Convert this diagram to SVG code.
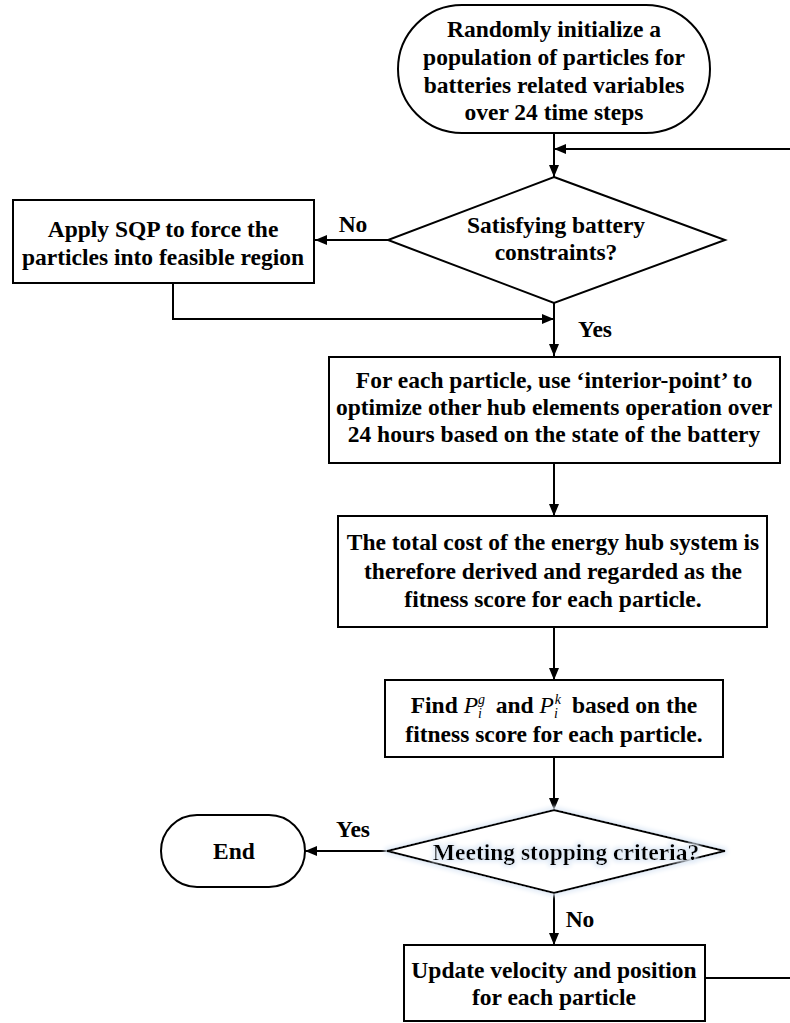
<svg xmlns="http://www.w3.org/2000/svg" width="790" height="1023" viewBox="0 0 790 1023">
<style>
.s{fill:#fff;stroke:#000;stroke-width:2}
.c{fill:none;stroke:#000;stroke-width:2}
.t{font-family:"Liberation Serif","Times New Roman",serif;font-weight:bold;font-size:23.5px;text-anchor:middle;fill:#000}
.m{font-style:italic;font-weight:normal}
</style>
<defs>
<marker id="ah" markerUnits="userSpaceOnUse" markerWidth="12" markerHeight="10" refX="12" refY="5" orient="auto">
<path d="M0,0 L12,5 L0,10 z" fill="#000"/>
</marker>
<filter id="glow" x="-20%" y="-50%" width="140%" height="200%">
<feMorphology in="SourceAlpha" operator="dilate" radius="1.5" result="d"/>
<feGaussianBlur in="d" stdDeviation="2" result="b"/>
<feFlood flood-color="#e3ecf7"/>
<feComposite in2="b" operator="in" result="g"/>
<feMerge><feMergeNode in="g"/><feMergeNode in="SourceGraphic"/></feMerge>
</filter>
</defs>
<g id="connectors">
<path class="c" d="M554,133 L554,177" marker-end="url(#ah)"/>
<path class="c" d="M790,149 L554,149" marker-end="url(#ah)"/>
<path class="c" d="M388,240 L315,240" marker-end="url(#ah)"/>
<path class="c" d="M173,283 L173,319 L554,319" marker-end="url(#ah)"/>
<path class="c" d="M554,303 L554,356" marker-end="url(#ah)"/>
<path class="c" d="M554,463 L554,516" marker-end="url(#ah)"/>
<path class="c" d="M554,627 L554,680" marker-end="url(#ah)"/>
<path class="c" d="M554,757 L554,810" marker-end="url(#ah)"/>
<path class="c" d="M387,851 L305,851" marker-end="url(#ah)"/>
<path class="c" d="M554,893 L554,945" marker-end="url(#ah)"/>
<path class="c" d="M705,978 L790,978"/>
<text class="t" x="353" y="232">No</text>
<text class="t" x="595" y="337">Yes</text>
<text class="t" x="353" y="837">Yes</text>
<text class="t" x="580" y="927">No</text>
</g>
<g id="start">
<rect class="s" x="398" y="5" width="312" height="128" rx="64" ry="64"/>
<text class="t" x="554" y="37">Randomly initialize a</text>
<text class="t" x="554" y="65">population of particles for</text>
<text class="t" x="554" y="93">batteries related variables</text>
<text class="t" x="554" y="120">over 24 time steps</text>
</g>
<g id="check-battery">
<polygon class="s" points="554,177 725,240 554,303 388,240"/>
<text class="t" x="556" y="233">Satisfying battery</text>
<text class="t" x="556" y="260">constraints?</text>
</g>
<g id="apply-sqp">
<rect class="s" x="13" y="200" width="301" height="83"/>
<text class="t" x="163" y="237">Apply SQP to force the</text>
<text class="t" x="163" y="265">particles into feasible region</text>
</g>
<g id="interior-point">
<rect class="s" x="329" y="357" width="451" height="106"/>
<text class="t" x="554" y="388">For each particle, use ‘interior-point’ to</text>
<text class="t" x="554" y="415">optimize other hub elements operation over</text>
<text class="t" x="554" y="442">24 hours based on the state of the battery</text>
</g>
<g id="total-cost">
<rect class="s" x="338" y="516" width="429" height="111"/>
<text class="t" x="553" y="550">The total cost of the energy hub system is</text>
<text class="t" x="553" y="579">therefore derived and regarded as the</text>
<text class="t" x="553" y="607">fitness score for each particle.</text>
</g>
<g id="find-best">
<rect class="s" x="385" y="680" width="338" height="77"/>
<text class="t" x="554" y="713">Find <tspan class="m">P</tspan><tspan class="m" font-size="14" dy="5">i</tspan><tspan class="m" font-size="14" dx="-4" dy="-14">g</tspan><tspan dx="5" dy="9"> and </tspan><tspan class="m">P</tspan><tspan class="m" font-size="14" dy="5">i</tspan><tspan class="m" font-size="14" dx="-3" dy="-14">k</tspan><tspan dx="5" dy="9"> based on the</tspan></text>
<text class="t" x="554" y="742">fitness score for each particle.</text>
</g>
<g id="stop-check">
<polygon class="s" points="554,810 725,851 554,893 387,851" filter="url(#glow)"/>
<text class="t" x="566" y="860" filter="url(#glow)">Meeting stopping criteria?</text>
</g>
<g id="end">
<rect class="s" x="161" y="815" width="144" height="72" rx="36" ry="36"/>
<text class="t" x="234" y="859">End</text>
</g>
<g id="update">
<rect class="s" x="404" y="945" width="301" height="76"/>
<text class="t" x="554" y="978">Update velocity and position</text>
<text class="t" x="554" y="1005">for each particle</text>
</g>
</svg>
